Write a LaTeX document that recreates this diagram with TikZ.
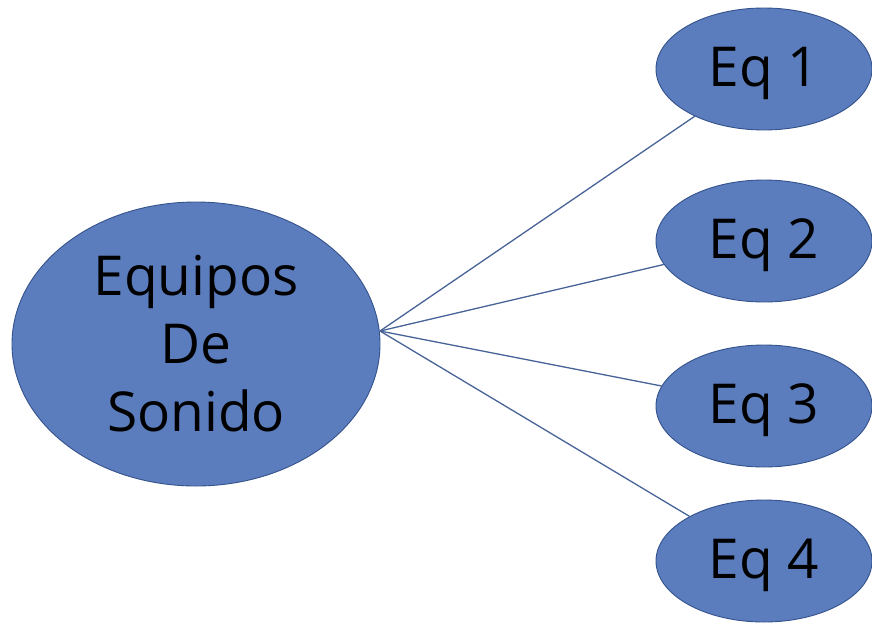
\documentclass[tikz,border=0pt]{standalone}
\usepackage{fontspec}
\setmainfont{Open Sans}
\usetikzlibrary{shapes.geometric}
\newcommand{\dropped}[1]{\raisebox{-4pt}[\height][\depth]{#1}}
\begin{document}
\begin{tikzpicture}[x=1pt, y=-1pt]
        \definecolor{bubblefill}{RGB}{91,125,190}
\definecolor{bubbleline}{RGB}{52,82,140}
\tikzset{
  bubble/.style={ellipse, fill=bubblefill, draw=bubbleline, line width=0.9pt, inner sep=0pt, text=black, font=\fontsize{55}{68}\selectfont},
  small bubble/.style={bubble, minimum width=216pt, minimum height=122pt},
  spoke/.style={draw=bubbleline!90, line width=1.3pt}
}
\useasboundingbox (0,0) rectangle (872,624);
\node[bubble, minimum width=368pt, minimum height=284pt, align=center] (equipos) at (196,344) {Equipos\\De\\Sonido};
\coordinate (hub) at (380,331);
\node[small bubble] (eq1) at (764,69) {\dropped{Eq 1}};
\node[small bubble] (eq2) at (764,241) {\dropped{Eq 2}};
\node[small bubble] (eq3) at (764,406) {\dropped{Eq 3}};
\node[small bubble] (eq4) at (764,561) {\dropped{Eq 4}};
\draw[spoke] (hub) -- (eq1);
\draw[spoke] (hub) -- (eq2);
\draw[spoke] (hub) -- (eq3);
\draw[spoke] (hub) -- (eq4);
        \end{tikzpicture}
\end{document}
